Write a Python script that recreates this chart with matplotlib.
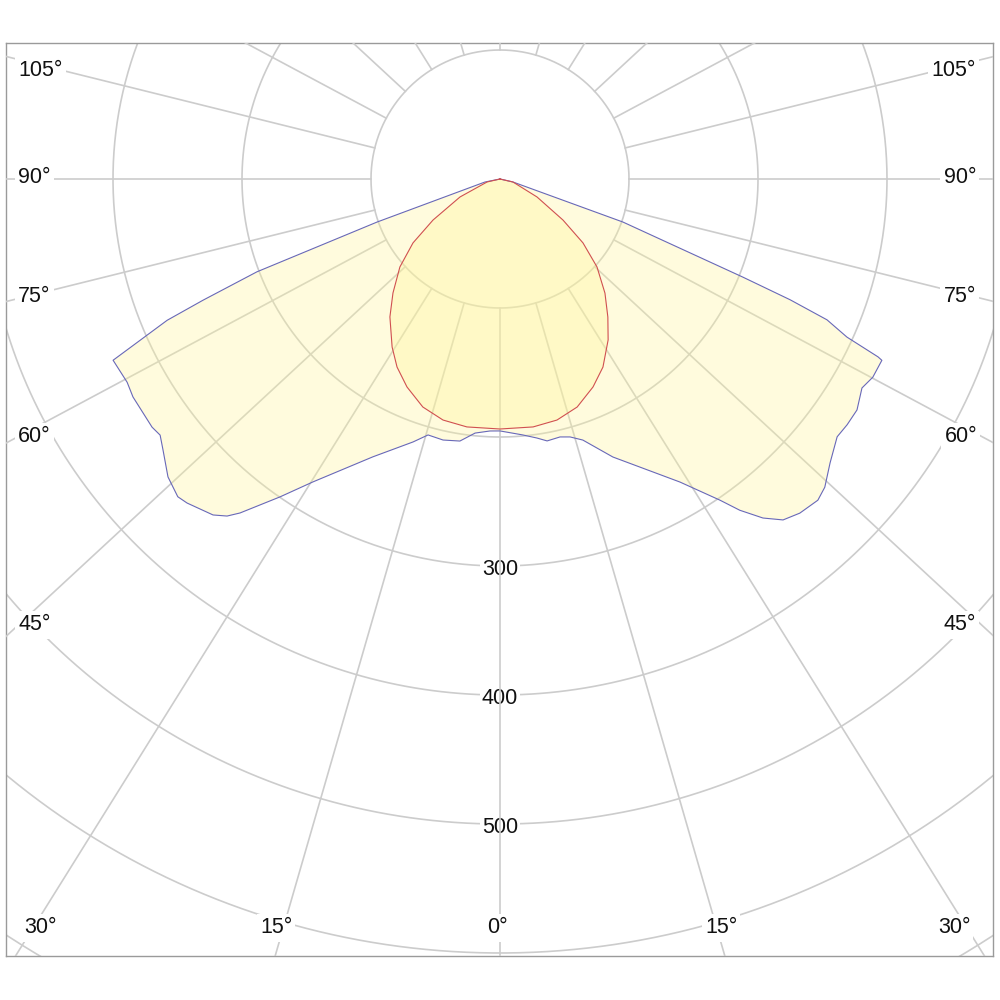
import numpy as np
import matplotlib.pyplot as plt

plt.rcParams['font.family'] = ['Liberation Sans', 'DejaVu Sans']

# luminous intensity (cd), gamma in degrees (0 = straight down)
# C0-C180 plane (blue outline), from the left side to the right side
C0_GAMMA = [-90, -78.7, -70.7, -69.1, -67.8, -67.0, -64.9, -61.4, -59.3, -54.5,
            -53.0, -51.2, -48.1, -45.4, -44.0, -40.5, -39.0, -37.9, -34.7, -31.7,
            -24.6, -18.3, -15.7, -12.3, -8.7, -5.6, -2.3, 0, 5.1, 8.1,
            10.2, 13.1, 15.2, 17.6, 22.1, 30.7, 34.4, 35.9, 37.8, 39.7,
            41.9, 44.7, 46.5, 49.3, 52.6, 54.7, 57.1, 58.8, 60.0, 62.0,
            64.6, 64.8, 65.5, 66.7, 67.4, 68.0, 70.7, 77.0, 90]
C0_CD = [0, 11.9, 101.0, 201.7, 248.6, 280.3, 331.2, 329.2, 330.9, 331.3,
         329.9, 335.2, 345.8, 350.8, 349.2, 342.5, 336.2, 328.1, 299.8, 276.0,
         236.9, 214.7, 206.1, 207.1, 205.5, 197.9, 195.5, 195.3, 199.2, 202.8,
         206.3, 205.3, 207.2, 212.3, 232.6, 273.2, 301.7, 317.0, 332.6, 343.5,
         348.0, 350.3, 347.1, 337.5, 329.0, 329.7, 329.6, 326.2, 324.0, 327.3,
         327.7, 323.9, 295.6, 276.0, 243.6, 203.1, 101.0, 10.3, 0]

# C90-C270 plane (red outline)
C90_GAMMA = [-90, -77, -65.8, -58.5, -53.7, -48.7, -43.2, -38.6, -32.7, -28.7,
             -24.1, -18.7, -13.3, -7.6, 0, 7.6, 13.3, 18.7, 24.1, 28.7,
             33.9, 38.0, 42.6, 47.8, 52.4, 56.9, 64.1, 77, 90]
C90_CD = [0, 10.3, 34.0, 60.9, 83.7, 103.3, 121.2, 136.8, 154.8, 166.2,
          176.6, 186.6, 192.0, 193.9, 193.8, 193.9, 192.0, 186.6, 176.6, 166.2,
          150.3, 135.8, 120.2, 101.5, 81.2, 58.3, 31.9, 10.3, 0]

RINGS = [100, 200, 300, 400, 500, 600, 700, 800]
RING_LABELS = [300, 400, 500]
SPOKES = list(range(0, 360, 15))

# angle labels: text, pixel x, pixel y, alignment
ANGLE_LABELS = [
    ('105°', 18, 71, 'left'), ('90°', 18, 178, 'left'), ('75°', 18, 297, 'left'),
    ('60°', 18, 437, 'left'), ('45°', 18, 625, 'left'),
    ('105°', 976, 71, 'right'), ('90°', 976, 178, 'right'), ('75°', 976, 297, 'right'),
    ('60°', 977, 437, 'right'), ('45°', 976, 625, 'right'),
    ('30°', 40, 928, 'center'), ('15°', 276, 928, 'center'), ('0°', 497, 928, 'center'),
    ('15°', 721, 928, 'center'), ('30°', 954, 928, 'center'),
]

CX, CY, SCALE = 500, 179, 1.29   # pole position in pixels, pixels per cd
SPOKE_STRETCH = 1.08             # the spokes of the original are drawn a bit wider
GRID = '#cccccc'


def px2data(px, py):
    return (px - CX) / SCALE, (CY - py) / SCALE


def to_xy(gamma, cd):
    g = np.radians(np.asarray(gamma, dtype=float))
    cd = np.asarray(cd, dtype=float)
    return cd * np.sin(g), -cd * np.cos(g)


fig = plt.figure(figsize=(10, 10), dpi=100)
ax = fig.add_axes([0.006, 0.044, 0.987, 0.913])
x0, y1 = px2data(6, 43)
x1, y0 = px2data(993, 956)
ax.set_xlim(x0, x1)
ax.set_ylim(y0, y1)
ax.set_xticks([])
ax.set_yticks([])
for sp in ax.spines.values():
    sp.set_color('#9a9a9a')
    sp.set_linewidth(1.0)

t = np.linspace(0, 2 * np.pi, 721)
for r in RINGS:
    ax.plot(r * np.cos(t), r * np.sin(t), color=GRID, lw=1.2, zorder=1)

for r in RING_LABELS:
    ax.text(0, -r - 3, str(r), ha='center', va='center', fontsize=15.5, color='#111111',
            zorder=2, bbox=dict(boxstyle='square,pad=0.1', fc='white', ec='none'))

for a in SPOKES:
    ang = np.radians(a)
    d = np.array([SPOKE_STRETCH * np.sin(ang), -np.cos(ang)])
    d /= np.hypot(*d)
    ax.plot([100 * d[0], 1500 * d[0]], [100 * d[1], 1500 * d[1]],
            color=GRID, lw=1.2, zorder=3)

for txt, px, py, ha in ANGLE_LABELS:
    x, y = px2data(px, py)
    ax.text(x, y, txt, ha=ha, va='center', fontsize=15.5, color='#111111', zorder=4,
            bbox=dict(boxstyle='square,pad=0.15', fc='white', ec='none'))

fill = (1.0, 0.96, 0.6)
bx, by = to_xy(C0_GAMMA, C0_CD)
ax.fill(bx, by, facecolor=fill, alpha=0.33, edgecolor='none', zorder=5)
ax.plot(bx, by, color='#6868b8', lw=0.8, zorder=6)

rx, ry = to_xy(C90_GAMMA, C90_CD)
ax.fill(rx, ry, facecolor=fill, alpha=0.33, edgecolor='none', zorder=5)
ax.plot(rx, ry, color='#d05050', lw=0.8, zorder=6)

fig.savefig('out.png', dpi=100, facecolor='white')
